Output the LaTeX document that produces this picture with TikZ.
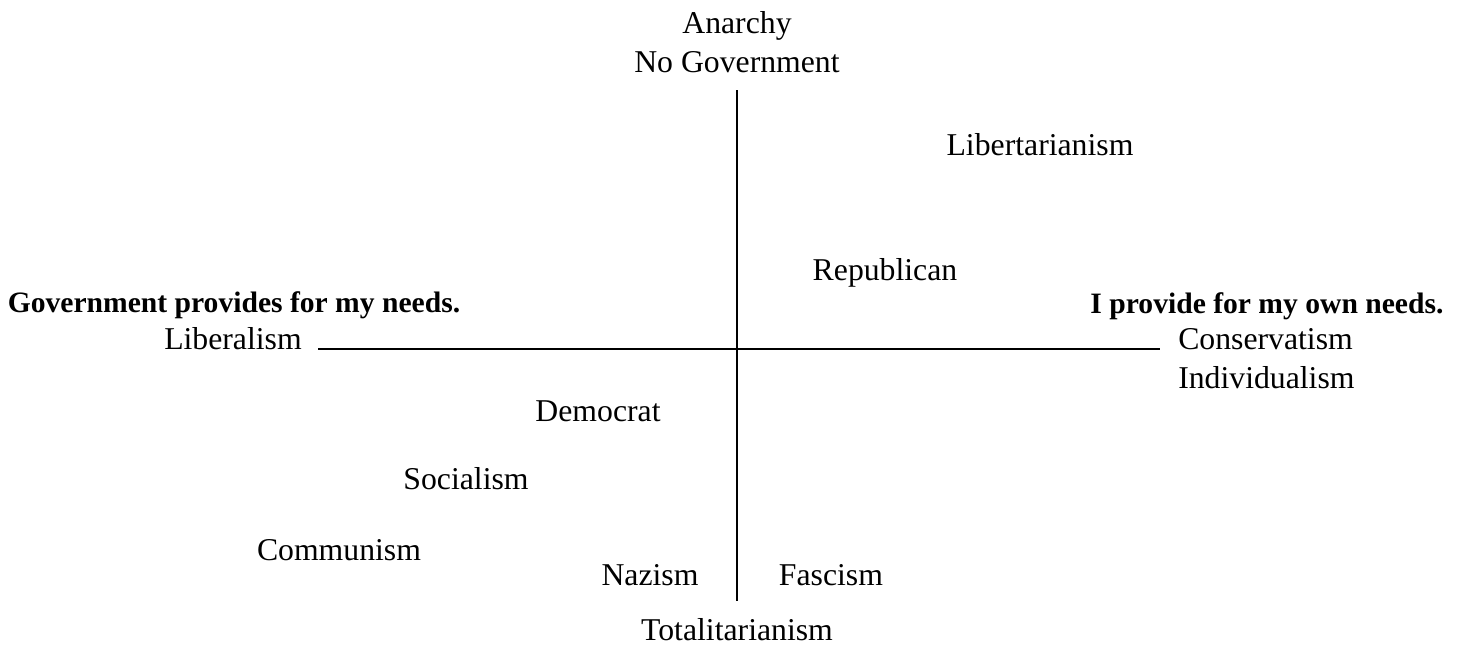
\documentclass[tikz,border=0pt]{standalone}
\usepackage{fontspec}
\setmainfont{Liberation Serif}
\usepackage{tikz}
\usetikzlibrary{positioning}
\tikzset{
  axislabel/.style={inner sep=0pt,anchor=base,align=center,
    font=\fontsize{23.8pt}{29pt}\selectfont},
  partylabel/.style={inner sep=0pt,anchor=base,
    font=\fontsize{23.8pt}{29pt}\selectfont},
  headlabel/.style={inner sep=0pt,anchor=base,
    font=\fontsize{22.2pt}{27pt}\selectfont\bfseries},
  axisline/.style={line width=1.5pt},
}

\begin{document}
\begin{tikzpicture}[x=0.75pt,y=-0.75pt]
    \useasboundingbox (0,0) rectangle (1465,646);
    % axis ends
    \coordinate (top) at (737,90);
    \coordinate (bottom) at (737,601);
    \coordinate (left) at (318,349);
    \coordinate (right) at (1160,349);
    \draw[axisline] (top) -- (bottom);
    \draw[axisline] (left) -- (right);
    % axis labels
    \node[axislabel] (anarchy) at (737,72) {Anarchy\\No Government};
    \node[axislabel] (totalit) at (737,640) {Totalitarianism};
    \node[headlabel] (govneeds) at (234,312) {Government provides for my needs.};
    \node[axislabel,anchor=base east] (liberal) at (302,349) {Liberalism};
    \node[headlabel] (ownneeds) at (1267,313) {I provide for my own needs.};
    \node[axislabel,anchor=base west,align=left] (conserv) at (1178,388) {Conservatism\\Individualism};
    % ideologies
    \node[partylabel] (libert) at (1040,155) {Libertarianism};
    \node[partylabel] (repub) at (885,280) {Republican};
    \node[partylabel] (democ) at (598,421) {Democrat};
    \node[partylabel] (social) at (466,489) {Socialism};
    \node[partylabel] (commun) at (339,560) {Communism};
    \node[partylabel] (nazi) at (650,585) {Nazism};
    \node[partylabel] (fasc) at (831,585) {Fascism};
\end{tikzpicture}
\end{document}
